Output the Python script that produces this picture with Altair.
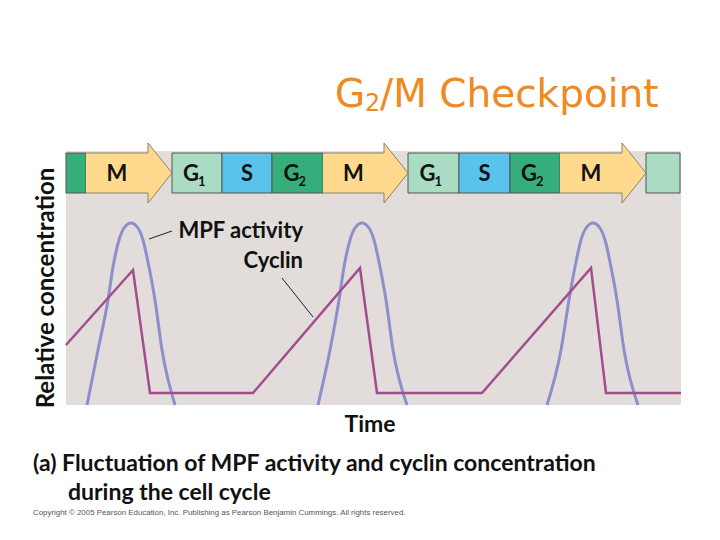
import altair as alt
import pandas as pd

# ---------------- data (time units along x, relative concentration along y) ----------------
phase_names = ["G2", "M", "G1", "S", "G2", "M", "G1", "S", "G2", "M", "G1"]
phase_start = [0, 20, 106, 156, 206, 257, 342, 393, 444, 494, 580]
phase_end = [20, 106, 156, 206, 257, 342, 393, 444, 494, 580, 614]
phase_main = ["", "M", "G", "S", "G", "M", "G", "S", "G", "M", ""]
phase_sub = ["", "", "1", "", "2", "", "1", "", "2", "", ""]

# MPF activity: three peaks (x read per peak, heights shared)
mpf_peak1_x = [21, 32, 42, 47, 53, 58, 65, 72, 77, 83, 89, 96, 109]
mpf_peak2_x = [252, 264, 273, 278, 284, 289, 296, 303, 308, 314, 320, 327, 341]
mpf_peak3_x = [481, 495, 503, 509, 515, 520, 527, 534, 539, 545, 551, 558, 572]
mpf_y = [0, 55, 105, 138, 165, 177, 182, 177, 165, 138, 105, 55, 0]

# Cyclin concentration
cyclin_x = [0, 67, 84, 187, 294, 311, 416, 525, 540, 615]
cyclin_y = [60, 135, 12, 12, 137, 12, 12, 137, 12, 12]

phase_colors = {"G1": "#a9dcc3", "S": "#5ac3ec", "G2": "#36ae7c", "M": "#fed98e"}

# ---------------- tables ----------------
XMAX, YMAX = 615, 254
BAR_LO, BAR_HI = 212, 252
HEAD_LO, HEAD_HI = 202, 262
HEAD_LEN = 24
MID = (BAR_LO + BAR_HI) / 2

phases = pd.DataFrame({"phase": phase_names, "start": phase_start, "end": phase_end,
                       "main": phase_main, "sub": phase_sub})
boxes = phases[phases.phase != "M"]
mph = phases[phases.phase == "M"].copy()
mph["body_end"] = mph["end"] - HEAD_LEN

head_rows, outline_rows = [], []
for i, (s, e) in enumerate(zip(mph.start, mph.end)):
    b = e - HEAD_LEN
    head_rows += [{"arrow": i, "x": b, "lo": HEAD_LO, "hi": HEAD_HI},
                  {"arrow": i, "x": e, "lo": MID, "hi": MID}]
    pts = [(s, BAR_HI), (b, BAR_HI), (b, HEAD_HI), (e, MID), (b, HEAD_LO), (b, BAR_LO), (s, BAR_LO)]
    for k, (x, y) in enumerate(pts):
        outline_rows.append({"arrow": i, "seq": k, "x": x, "y": y})
heads = pd.DataFrame(head_rows)
outlines = pd.DataFrame(outline_rows)

labels = phases[phases.main != ""].copy()
labels["cx"] = [((s + e - HEAD_LEN) / 2 if p == "M" else (s + e) / 2)
                for p, s, e in zip(labels.phase, labels.start, labels.end)]
labels["mx"] = [c - 6 if sb else c for c, sb in zip(labels.cx, labels["sub"])]
labels["sx"] = [c + 1 for c in labels.cx]

mpf = pd.DataFrame({
    "x": mpf_peak1_x + mpf_peak2_x + mpf_peak3_x,
    "y": mpf_y * 3,
    "peak": [1] * len(mpf_peak1_x) + [2] * len(mpf_peak2_x) + [3] * len(mpf_peak3_x),
})
cyclin = pd.DataFrame({"x": cyclin_x, "y": cyclin_y})

xs = alt.Scale(domain=[0, XMAX], nice=False, zero=False)
ys = alt.Scale(domain=[0, YMAX], nice=False, zero=False)

LABEL_FONT = "Lato"
M_FILL = phase_colors["M"]

box_layer = alt.Chart(boxes).mark_rect(stroke="#555555", strokeWidth=1).encode(
    x=alt.X("start:Q", scale=xs, axis=None),
    x2="end:Q",
    y=alt.Y(datum=BAR_LO, scale=ys, axis=None),
    y2=alt.datum(BAR_HI),
    fill=alt.Fill("phase:N", scale=alt.Scale(domain=list(phase_colors.keys()),
                                             range=list(phase_colors.values())), legend=None),
)

body_layer = alt.Chart(mph).mark_rect(fill=M_FILL, strokeWidth=0).encode(
    x=alt.X("start:Q", scale=xs, axis=None),
    x2="body_end:Q",
    y=alt.Y(datum=BAR_LO, scale=ys, axis=None),
    y2=alt.datum(BAR_HI),
)

head_layer = alt.Chart(heads).mark_area(fill=M_FILL, strokeWidth=0, interpolate="linear").encode(
    x=alt.X("x:Q", scale=xs, axis=None),
    y=alt.Y("lo:Q", scale=ys, axis=None, stack=None),
    y2="hi:Q",
    detail="arrow:N",
)

outline_layer = alt.Chart(outlines).mark_line(color="#8a8466", strokeWidth=1).encode(
    x=alt.X("x:Q", scale=xs, axis=None),
    y=alt.Y("y:Q", scale=ys, axis=None),
    detail="arrow:N",
    order="seq:Q",
)

main_text = alt.Chart(labels).mark_text(
    font=LABEL_FONT, fontWeight="bold", fontSize=22, color="#111111", baseline="alphabetic"
).encode(
    x=alt.X("mx:Q", scale=xs, axis=None),
    y=alt.Y(datum=224, scale=ys, axis=None),
    text="main:N",
)
sub_text = alt.Chart(labels[labels["sub"] != ""]).mark_text(
    font=LABEL_FONT, fontWeight="bold", fontSize=13, color="#111111", baseline="alphabetic",
    align="left"
).encode(
    x=alt.X("sx:Q", scale=xs, axis=None),
    y=alt.Y(datum=219, scale=ys, axis=None),
    text="sub:N",
)

mpf_layer = alt.Chart(mpf).mark_line(color="#8d8fcc", strokeWidth=3, interpolate="monotone").encode(
    x=alt.X("x:Q", scale=xs, axis=None),
    y=alt.Y("y:Q", scale=ys, axis=None),
    detail="peak:N",
)
cyclin_layer = alt.Chart(cyclin).mark_line(color="#a34d8c", strokeWidth=2.5).encode(
    x=alt.X("x:Q", scale=xs, axis=None),
    y=alt.Y("y:Q", scale=ys, axis=None),
)

# leader lines
leaders = pd.DataFrame({"x": [83, 216], "x2": [106, 247], "y": [166, 127], "y2": [174, 88]})
leader_layer = alt.Chart(leaders).mark_rule(color="#222222", strokeWidth=1).encode(
    x=alt.X("x:Q", scale=xs, axis=None), x2="x2:Q",
    y=alt.Y("y:Q", scale=ys, axis=None), y2="y2:Q",
)


def txt(s, x, y, **kw):
    return alt.Chart(pd.DataFrame({"t": [s]})).mark_text(**kw).encode(
        x=alt.value(x), y=alt.value(y), text="t:N")


bold = dict(font=LABEL_FONT, fontWeight="bold", color="#111111")
TITLE_C = "#ee8a22"
annos = [
    txt("MPF activity", 237, 87, align="right", baseline="alphabetic", fontSize=22, **bold),
    txt("Cyclin", 237, 117, align="right", baseline="alphabetic", fontSize=22, **bold),
    txt("Time", 304, 274, align="center", baseline="middle", fontSize=23, **bold),
    txt("Relative concentration", -19, 137, align="center", baseline="middle", angle=270,
        fontSize=24, **bold),
    txt("(a) Fluctuation of MPF activity and cyclin concentration", -33, 320, align="left",
        baseline="alphabetic", fontSize=23, **bold),
    txt("during the cell cycle", 2, 349, align="left", baseline="alphabetic", fontSize=23, **bold),
    txt("Copyright \u00a9 2005 Pearson Education, Inc. Publishing as Pearson Benjamin Cummings. All rights reserved.",
        -33, 364, align="left", baseline="alphabetic", fontSize=7.9, font="Liberation Sans",
        color="#555555"),
    txt("G", 269, -44, align="left", baseline="alphabetic", fontSize=39, font="DejaVu Sans",
        color=TITLE_C),
    txt("2", 299, -40, align="left", baseline="alphabetic", fontSize=24, font="DejaVu Sans",
        color=TITLE_C),
    txt("/M Checkpoint", 314, -44, align="left", baseline="alphabetic", fontSize=39,
        font="DejaVu Sans", color=TITLE_C),
]

chart = alt.layer(
    box_layer, body_layer, head_layer, outline_layer, main_text, sub_text,
    mpf_layer, cyclin_layer, leader_layer, *annos
).properties(
    width=XMAX, height=YMAX,
    autosize=alt.AutoSizeParams(type="none"),
    padding={"left": 58, "top": 143, "right": 20, "bottom": 120},
    background="white",
).configure_view(fill="#e2dddb", stroke=None)

chart.save("out.html", embed_options={"renderer": "svg", "actions": False})
